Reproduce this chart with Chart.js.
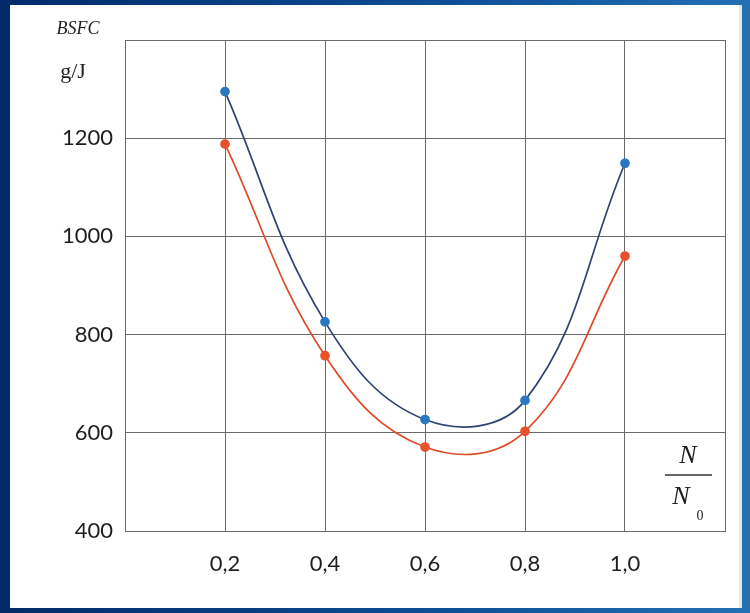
<!DOCTYPE html>
<html lang="en">
<head>
    <meta charset="UTF-8">
    <title>BSFC vs N/N0</title>
    <script src="https://cdn.jsdelivr.net/npm/chart.js"></script>
    <style>
        body {
            margin: 0;
            width: 750px;
            height: 613px;
            overflow: hidden;
            background: linear-gradient(to right, #032a68, #0d4f95 60%, #2470b4);
            position: relative;
        }
        .panel {
            position: absolute;
            left: 10px;
            top: 5px;
            width: 729px;
            height: 603px;
            background: #ffffff;
            border-right: 3px solid #e6e6e6;
        }
        canvas {
            position: absolute;
            left: 0;
            top: 0;
        }
    </style>
</head>
<body>
    <div class="panel"></div>
    <canvas id="chart" width="750" height="613"></canvas>

    <script>
        // load ratio N/N0
        const loads = [0.2, 0.4, 0.6, 0.8, 1.0];
        // BSFC, g/J
        const bsfcBlue = [1295, 826, 627, 666, 1149];
        const bsfcRed = [1188, 757, 571, 603, 960];

        const toPoints = (xs, ys) => xs.map((x, i) => ({ x: x, y: ys[i] }));

        // extra labels: BSFC, g/J and the N/N0 fraction
        const labelsPlugin = {
            id: 'labels',
            afterDraw(chart) {
                const ctx = chart.ctx;
                ctx.save();
                ctx.fillStyle = '#1e1e1e';
                ctx.textBaseline = 'middle';
                ctx.textAlign = 'center';
                ctx.font = 'italic 18px "Liberation Serif"';
                ctx.fillText('BSFC', 78, 29);
                ctx.font = '22px "Liberation Serif"';
                ctx.fillText('g/J', 73, 72);

                ctx.font = 'italic 26px "Liberation Serif"';
                ctx.fillText('N', 688, 456);
                ctx.fillText('N', 681, 497);
                ctx.font = '14px "Liberation Serif"';
                ctx.fillText('0', 700, 516);
                ctx.strokeStyle = '#333';
                ctx.lineWidth = 1.5;
                ctx.beginPath();
                ctx.moveTo(665, 475);
                ctx.lineTo(712, 475);
                ctx.stroke();
                ctx.restore();
            }
        };

        new Chart(document.getElementById('chart'), {
            type: 'line',
            data: {
                datasets: [
                    {
                        label: 'blue',
                        data: toPoints(loads, bsfcBlue),
                        borderColor: '#2f4374',
                        backgroundColor: '#2a78c2',
                        pointBorderColor: '#2a78c2',
                        borderWidth: 1.7,
                        pointRadius: 4,
                        tension: 0.4
                    },
                    {
                        label: 'red',
                        data: toPoints(loads, bsfcRed),
                        borderColor: '#e04a28',
                        backgroundColor: '#e8522a',
                        pointBorderColor: '#e8522a',
                        borderWidth: 1.7,
                        pointRadius: 4,
                        tension: 0.4
                    }
                ]
            },
            options: {
                responsive: false,
                animation: false,
                layout: { padding: { top: 40, right: 25, left: 0, bottom: 0 } },
                plugins: {
                    legend: { display: false },
                    tooltip: { enabled: false }
                },
                scales: {
                    x: {
                        type: 'linear',
                        min: 0,
                        max: 1.2,
                        afterFit: s => { s.height = 82; },
                        grid: { color: '#6a6a6a', lineWidth: 1, drawTicks: false },
                        border: { color: '#6a6a6a' },
                        ticks: {
                            stepSize: 0.2,
                            padding: 20,
                            color: '#1e1e1e',
                            font: { family: 'Lato', size: 22 },
                            callback: v => (v > 0.01 && v < 1.19) ? v.toFixed(1).replace('.', ',') : ''
                        }
                    },
                    y: {
                        min: 400,
                        max: 1400,
                        afterFit: s => { s.width = 125; },
                        grid: { color: '#6a6a6a', lineWidth: 1, drawTicks: false },
                        border: { color: '#6a6a6a' },
                        ticks: {
                            stepSize: 200,
                            padding: 12,
                            color: '#1e1e1e',
                            font: { family: 'Lato', size: 22 },
                            callback: v => v < 1400 ? String(v) : ''
                        }
                    }
                }
            },
            plugins: [labelsPlugin]
        });
    </script>
</body>
</html>
